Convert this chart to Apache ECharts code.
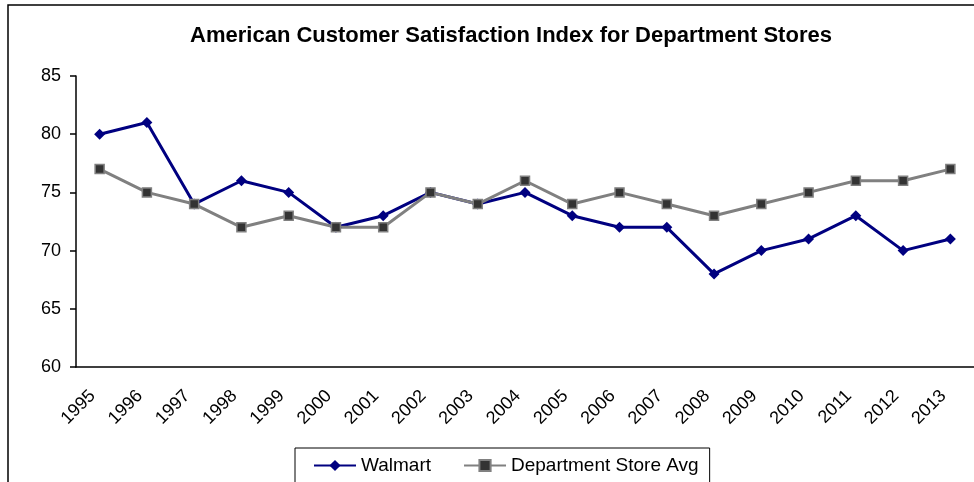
<!DOCTYPE html>
<html>
<head>
<meta charset="utf-8">
<script src="https://cdn.jsdelivr.net/npm/echarts@6/dist/echarts.min.js"></script>
<style>
html,body{margin:0;padding:0;background:#fff;}
#chart{width:974px;height:482px;}
</style>
</head>
<body>
<div id="chart"></div>
<script>
// years on the x axis
var years = ['1995','1996','1997','1998','1999','2000','2001','2002','2003','2004',
	'2005','2006','2007','2008','2009','2010','2011','2012','2013'];
// Walmart ACSI
var walmart = [80,81,74,76,75,72,73,75,74,75,73,72,72,68,70,71,73,70,71];
// department store average
var deptAvg = [77,75,74,72,73,72,72,75,74,76,74,75,74,73,74,75,76,76,77];

var chart = echarts.init(document.getElementById('chart'));
var font = 'Liberation Sans, Arial, sans-serif';
var option = {
	backgroundColor:'#fff',
	animation:false,
	title:{
		text:'American Customer Satisfaction Index for Department Stores',
		left:506,
		top:20,
		textAlign:'center',
		textStyle:{
			color:'#000',
			fontSize:22,
			fontWeight:'bold',
			fontFamily:font
		}
	},
	graphic:[{
		type:'rect',
		shape:{x:8,y:5,width:1100,height:600},
		style:{fill:'none',stroke:'#000',lineWidth:1.5},
		silent:true
	}],
	legend:{
		left:295,
		top:448,
		padding:[8,11,20,18],
		itemGap:32,
		itemWidth:42,
		itemHeight:14,
		borderColor:'#000',
		borderWidth:1,
		textStyle:{color:'#000',fontSize:19,fontFamily:font},
		data:['Walmart','Department Store Avg']
	},
	grid:{
		left:76,
		top:76,
		width:900,
		height:291
	},
	xAxis:{
		type:'category',
		data:years,
		boundaryGap:true,
		axisLine:{lineStyle:{color:'#000',width:1.5}},
		axisTick:{length:6,lineStyle:{color:'#000',width:1.5}},
		axisLabel:{
			rotate:45,
			interval:0,
			color:'#000',
			fontSize:18,
			fontFamily:font,
			margin:19,
			padding:[0,10,0,0]
		},
		splitLine:{show:false}
	},
	yAxis:{
		type:'value',
		min:60,
		max:85,
		interval:5,
		axisLine:{show:true,lineStyle:{color:'#000',width:1.5}},
		axisTick:{show:true,length:6,lineStyle:{color:'#000',width:1.5}},
		axisLabel:{color:'#000',fontSize:18,fontFamily:font,margin:15},
		splitLine:{show:false}
	},
	series:[{
		name:'Walmart',
		type:'line',
		data:walmart,
		symbol:'diamond',
		symbolSize:11,
		color:'#000080',
		lineStyle:{color:'#000080',width:3},
		itemStyle:{color:'#000080'}
	},{
		name:'Department Store Avg',
		type:'line',
		data:deptAvg,
		symbol:'rect',
		symbolSize:9,
		color:'#808080',
		lineStyle:{color:'#808080',width:3},
		itemStyle:{color:'#333',borderColor:'#808080',borderWidth:1.5}
	}]
};
chart.setOption(option);
</script>
</body>
</html>
